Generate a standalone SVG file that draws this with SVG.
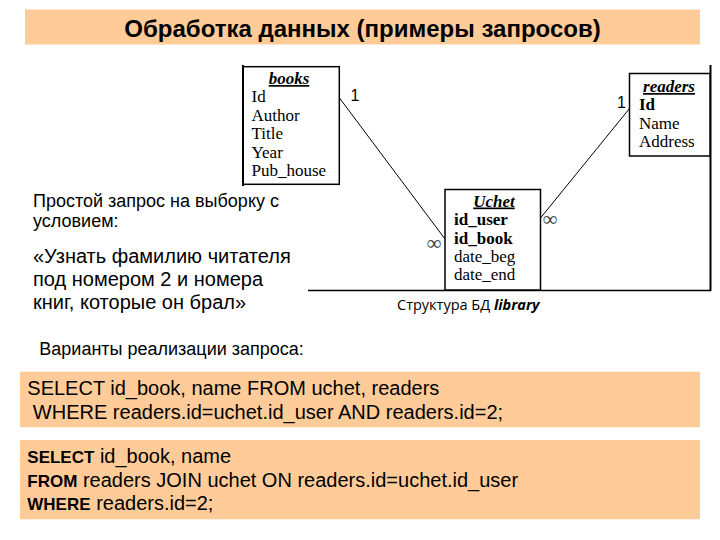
<svg xmlns="http://www.w3.org/2000/svg" width="720" height="540" viewBox="0 0 720 540">
<style>
.bar{fill:#FFCC99}
.sans{font-family:"Liberation Sans",Arial,sans-serif;fill:#000}
.serif{font-family:"Liberation Serif","Times New Roman",serif;fill:#000;font-size:17px}
.hdr{font-weight:bold;font-style:italic;text-decoration:underline;text-anchor:middle}
.box{fill:#fff;stroke:#000;stroke-width:1.5}
.conn{stroke:#000;stroke-width:1;fill:none}
.inf{font-family:"Liberation Serif",serif;font-size:21px;fill:#444;text-anchor:middle}
.one{font-family:"Liberation Sans",Arial,sans-serif;font-size:16px;fill:#000;text-anchor:middle}
</style>
<rect x="0" y="0" width="720" height="540" fill="#fff"/>
<g id="title">
<rect class="bar" x="25" y="9.5" width="675" height="35"/>
<text class="sans" x="362.5" y="37" font-size="24" font-weight="bold" text-anchor="middle">Обработка данных (примеры запросов)</text>
</g>
<g id="frame">
<line x1="710.5" y1="65" x2="710.5" y2="291" stroke="#000" stroke-width="2"/>
<line x1="308" y1="290.5" x2="711" y2="290.5" stroke="#000" stroke-width="1.5"/>
</g>
<g id="connectors">
<line class="conn" x1="339.5" y1="98" x2="445" y2="239"/>
<line class="conn" x1="629.5" y1="108.5" x2="540.5" y2="218"/>
<text class="one" x="355" y="101">1</text>
<text class="one" x="621.5" y="108">1</text>
<text class="inf" x="434" y="250">∞</text>
<text class="inf" x="550" y="226">∞</text>
</g>
<g id="books">
<rect class="box" x="243" y="66.7" width="96.3" height="117.6"/>
<line x1="243" y1="65" x2="243" y2="186" stroke="#000" stroke-width="2"/>
<text class="serif hdr" x="289" y="84">books</text>
<text class="serif" x="251.5" y="101.5">Id</text>
<text class="serif" x="251.5" y="120.5">Author</text>
<text class="serif" x="251.5" y="139">Title</text>
<text class="serif" x="251.5" y="157.5">Year</text>
<text class="serif" x="251.5" y="176">Pub_house</text>
</g>
<g id="readers">
<rect class="box" x="629.5" y="73.5" width="80.5" height="82.5"/>
<text class="serif hdr" x="669" y="92">readers</text>
<text class="serif" x="639" y="110" font-weight="bold">Id</text>
<text class="serif" x="639" y="129">Name</text>
<text class="serif" x="639" y="147">Address</text>
</g>
<g id="uchet">
<rect class="box" x="445" y="189.5" width="95.5" height="100.5"/>
<text class="serif hdr" x="494" y="206.5">Uchet</text>
<text class="serif" x="454" y="225" font-weight="bold">id_user</text>
<text class="serif" x="454" y="243.5" font-weight="bold">id_book</text>
<text class="serif" x="454" y="262">date_beg</text>
<text class="serif" x="454" y="280">date_end</text>
</g>
<g id="caption">
<text x="397" y="310" font-family="'Open Sans','Noto Sans',sans-serif" font-size="14.5">Структура БД <tspan font-weight="bold" font-style="italic">library</tspan></text>
</g>
<g id="task">
<text class="sans" font-size="18"><tspan x="33" y="206.7">Простой запрос на выборку с</tspan><tspan x="33" y="226.7">условием:</tspan></text>
<text class="sans" font-size="20"><tspan x="33" y="263.3">«Узнать фамилию читателя</tspan><tspan x="33" y="286">под номером 2 и номера</tspan><tspan x="33" y="308.5">книг, которые он брал»</tspan></text>
<text class="sans" x="39.3" y="355" font-size="18">Варианты реализации запроса:</text>
</g>
<g id="query1">
<rect class="bar" x="20" y="371.7" width="680" height="55.6"/>
<text class="sans" font-size="20"><tspan x="27.3" y="395">SELECT id_book, name FROM uchet, readers</tspan><tspan x="27.3" y="419" xml:space="preserve"> WHERE readers.id=uchet.id_user AND readers.id=2;</tspan></text>
</g>
<g id="query2">
<rect class="bar" x="20" y="440" width="680" height="79.3"/>
<text class="sans" font-size="20"><tspan x="27.3" y="462.7"><tspan font-weight="bold" font-size="17">SELECT</tspan> id_book, name</tspan><tspan x="27.3" y="486.7"><tspan font-weight="bold" font-size="17">FROM</tspan> readers JOIN uchet ON readers.id=uchet.id_user</tspan><tspan x="27.3" y="510"><tspan font-weight="bold" font-size="17">WHERE</tspan> readers.id=2;</tspan></text>
</g>
</svg>
